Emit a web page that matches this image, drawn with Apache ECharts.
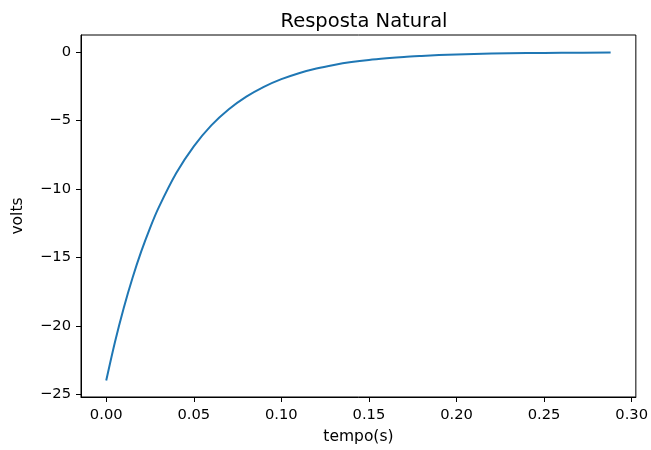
<!DOCTYPE html>
<html>
<head>
<meta charset="utf-8">
<script src="https://cdn.jsdelivr.net/npm/echarts@6/dist/echarts.min.js"></script>
<style>
  html, body { margin: 0; padding: 0; background: #fff; }
  #chart { width: 651px; height: 450px; }
</style>
</head>
<body>
<div id="chart"></div>
<script>
// tempo (s) e tensão (V)
const tempo = [0, 0.005, 0.01, 0.015, 0.02, 0.025, 0.03, 0.04, 0.05, 0.06, 0.07, 0.08, 0.09, 0.10,
  0.11, 0.12, 0.13, 0.14, 0.15, 0.16, 0.17, 0.18, 0.19, 0.20, 0.22, 0.24, 0.26, 0.288]
const volts = [-24, -21.18, -18.69, -16.50, -14.56, -12.85, -11.34, -8.83, -6.88, -5.35, -4.17, -3.25, -2.53, -1.97,
  -1.53, -1.19, -0.93, -0.72, -0.56, -0.44, -0.34, -0.27, -0.21, -0.16, -0.10, -0.06, -0.04, -0.02]
const xTicks = [0, 0.05, 0.10, 0.15, 0.20, 0.25, 0.30]
const yTicks = [-25, -20, -15, -10, -5, 0]

const chart = echarts.init(document.getElementById('chart'))
const font = 'DejaVu Sans'

chart.setOption({
  animation: false,
  title: {
    text: 'Resposta Natural',
    left: 359,
    top: 7,
    textAlign: 'center',
    textStyle: { fontFamily: font, fontSize: 19.5, fontWeight: 'normal', color: '#000' }
  },
  grid: {
    left: 81, right: 14, top: 35, bottom: 52,
    show: true, borderColor: '#000', borderWidth: 1
  },
  xAxis: {
    type: 'value',
    min: -0.0144,
    max: 0.3024,
    name: 'tempo(s)',
    nameLocation: 'middle',
    nameGap: 32,
    nameTextStyle: { fontFamily: font, fontSize: 15.5, color: '#000' },
    splitLine: { show: false },
    axisLine: { show: true, onZero: false, lineStyle: { color: '#000', width: 1 } },
    axisTick: { show: true, length: 5, customValues: xTicks, lineStyle: { color: '#000' } },
    axisLabel: {
      customValues: xTicks,
      margin: 11,
      fontFamily: font, fontSize: 14.7, color: '#000',
      formatter: v => v.toFixed(2)
    }
  },
  yAxis: {
    type: 'value',
    min: -25.2,
    max: 1.26,
    name: 'volts',
    nameLocation: 'middle',
    nameGap: 55,
    nameTextStyle: { fontFamily: font, fontSize: 15.5, color: '#000' },
    splitLine: { show: false },
    axisLine: { show: true, onZero: false, lineStyle: { color: '#000', width: 1 } },
    axisTick: { show: true, length: 5, customValues: yTicks, lineStyle: { color: '#000' } },
    axisLabel: {
      customValues: yTicks,
      margin: 10,
      fontFamily: font, fontSize: 14.7, color: '#000',
      formatter: v => (v < 0 ? '\u2212' + Math.abs(v) : String(v))
    }
  },
  series: [{
    type: 'line',
    data: tempo.map((t, i) => [t, volts[i]]),
    smooth: 0.3,
    showSymbol: false,
    lineStyle: { color: '#1f77b4', width: 2 }
  }]
})
</script>
</body>
</html>
